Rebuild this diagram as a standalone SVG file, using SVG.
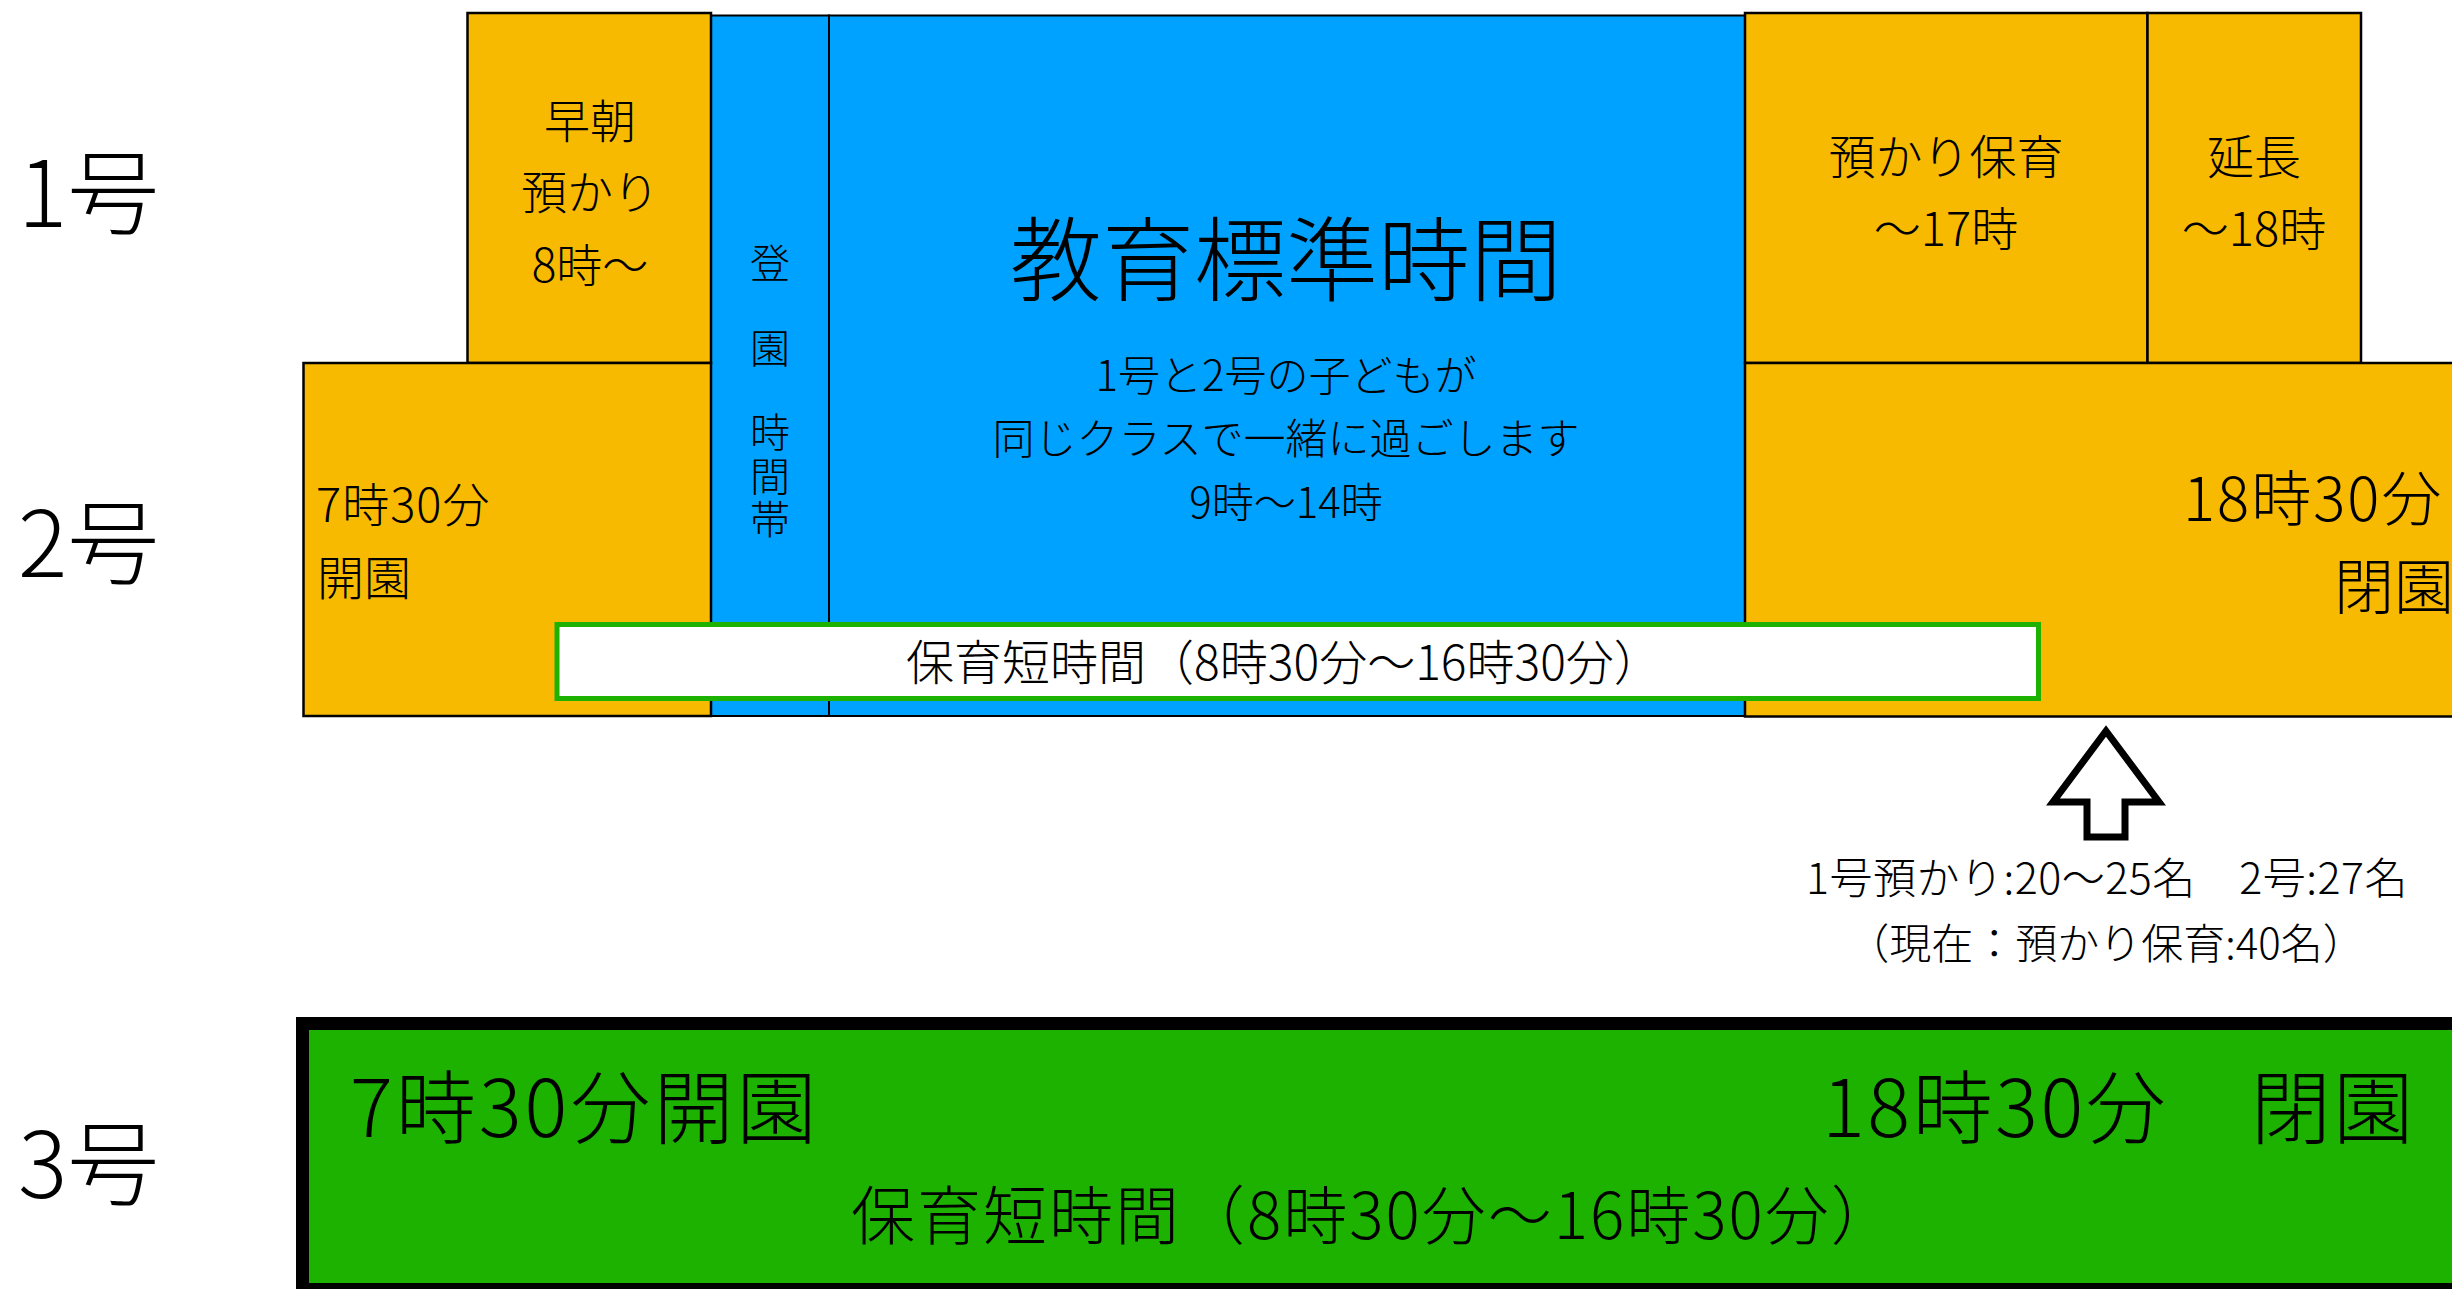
<svg xmlns="http://www.w3.org/2000/svg" width="2452" height="1289" viewBox="0 0 2452 1289">
<style>
text{font-family:"Noto Sans CJK JP","Noto Sans CJK SC",sans-serif;fill:#000;font-weight:300}
.org{fill:#F8BA00;stroke:#000;stroke-width:2.5}
.blu{fill:#00A2FF;stroke:#000;stroke-width:2}
.row{font-size:92px}
.mid{text-anchor:middle}
.vert{writing-mode:vertical-rl;text-orientation:upright;font-size:40px}
</style>
<rect width="2452" height="1289" fill="#fff"/>
<g id="label-1"><text class="row" x="18" y="227">1号</text></g>
<g id="label-2"><text class="row" x="18" y="577">2号</text></g>
<g id="label-3"><text class="row" x="18" y="1198">3号</text></g>

<g id="tourou">
<rect class="blu" x="711" y="15.5" width="118" height="700.5"/>
<text class="vert" x="770" y="243" letter-spacing="45">登園</text>
<text class="vert" x="770" y="412" letter-spacing="3.5">時間帯</text>
</g>
<g id="kyouiku">
<rect class="blu" x="829" y="15.5" width="916" height="700.5"/>
<text class="mid" font-size="92" x="1286" y="294">教育標準時間</text>
<text class="mid" font-size="42" x="1286" y="391">1号と2号の子どもが</text>
<text class="mid" font-size="42" x="1286" y="454">同じクラスで一緒に過ごします</text>
<text class="mid" font-size="42" x="1286" y="518">9時〜14時</text>
</g>
<g id="souchou">
<rect class="org" x="467.5" y="13" width="243.5" height="350"/>
<text class="mid" font-size="46" x="590" y="138">早朝</text>
<text class="mid" font-size="46" x="590" y="209">預かり</text>
<text class="mid" font-size="46" x="590" y="282">8時〜</text>
</g>
<g id="kaien-2">
<rect class="org" x="303.5" y="363" width="407.5" height="353"/>
<text font-size="47" x="316" y="522" letter-spacing="1">7時30分</text>
<text font-size="47" x="317" y="595">開園</text>
</g>
<g id="azukari">
<rect class="org" x="1745" y="13" width="402.5" height="350"/>
<text class="mid" font-size="47" x="1946" y="174">預かり保育</text>
<text class="mid" font-size="47" x="1946" y="246">〜17時</text>
</g>
<g id="enchou">
<rect class="org" x="2147.5" y="13" width="213.5" height="350"/>
<text class="mid" font-size="47" x="2254" y="174">延長</text>
<text class="mid" font-size="47" x="2254" y="246">〜18時</text>
</g>
<g id="heien-2">
<rect class="org" x="1745" y="363" width="720" height="353.5"/>
<text font-size="60" x="2183" y="521" letter-spacing="2">18時30分</text>
<text font-size="60" x="2334" y="609">閉園</text>
</g>
<g id="hoiku-tan-2">
<rect x="557" y="624.5" width="1481.5" height="74" fill="#fff" stroke="#1DB100" stroke-width="5"/>
<text class="mid" font-size="48" x="1284" y="680">保育短時間（8時30分〜16時30分）</text>
</g>

<g id="connectors">
<path d="M2106,731 L2159,802 L2125,802 L2125,837 L2087,837 L2087,802 L2053,802 Z" fill="#fff" stroke="#000" stroke-width="7" stroke-linejoin="miter"/>
</g>
<g id="note">
<text class="mid" font-size="43" x="2107" y="894" letter-spacing="0.5">1号預かり:20〜25名　2号:27名</text>
<text class="mid" font-size="42" x="2106" y="959">（現在：預かり保育:40名）</text>
</g>

<g id="class-3">
<rect x="302.5" y="1023.5" width="2170" height="266" fill="#1DB100" stroke="#000" stroke-width="13"/>
<text font-size="80" x="350" y="1137" letter-spacing="3">7時30分開園</text>
<text font-size="80" x="1822" y="1137" letter-spacing="2.5">18時30分　閉園</text>
<text font-size="64" x="851" y="1239" letter-spacing="2">保育短時間（8時30分〜16時30分）</text>
</g>
</svg>
